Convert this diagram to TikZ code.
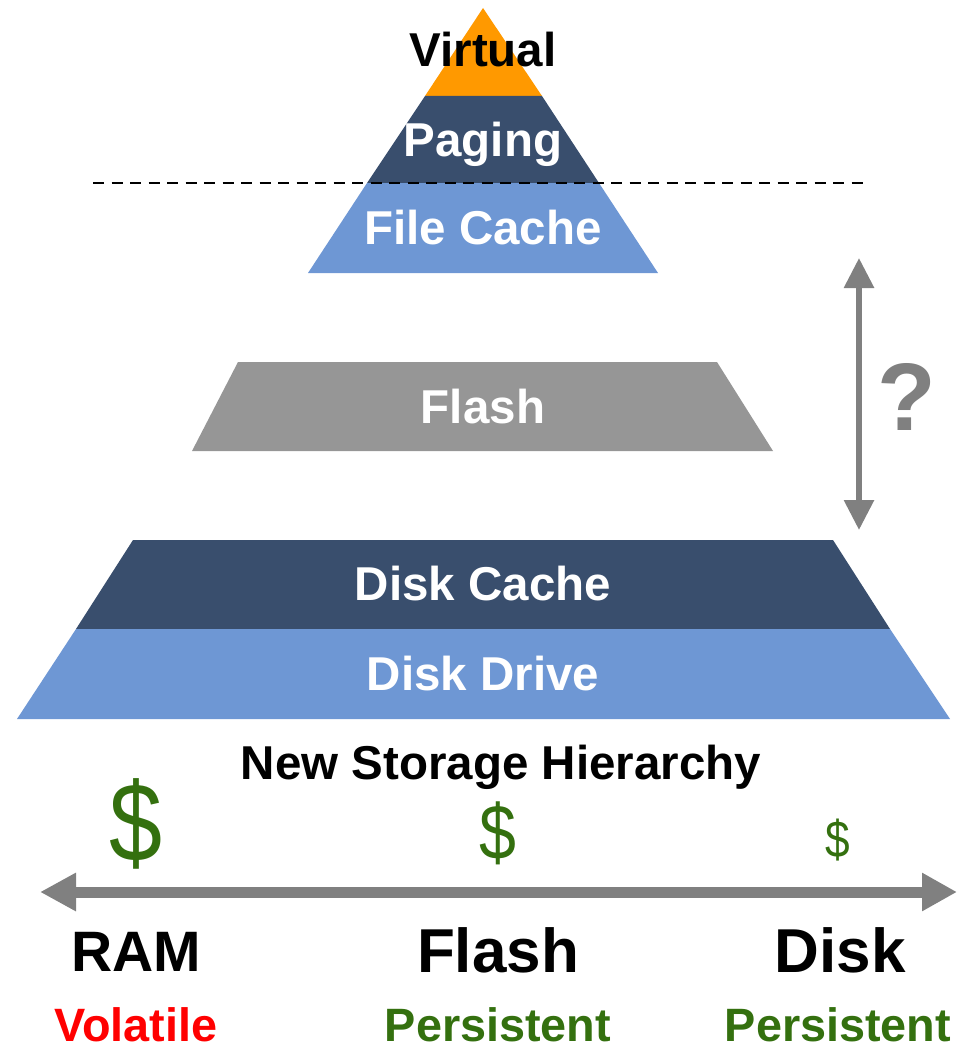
\documentclass[tikz,border=0pt]{standalone}
\usepackage{fontspec}
\setmainfont{Liberation Sans}
\usetikzlibrary{arrows.meta}
\definecolor{tierorange}{HTML}{FF9900}
\definecolor{tiernavy}{HTML}{394E6D}
\definecolor{tierblue}{HTML}{6E97D4}
\definecolor{tiergray}{HTML}{969696}
\definecolor{arrowgray}{HTML}{808080}
\definecolor{costgreen}{HTML}{34700F}
\definecolor{volred}{HTML}{FF0000}
\tikzset{
  tierlabel/.style={anchor=base, inner sep=0pt, text=white, font=\bfseries\fontsize{47.5}{57}\selectfont},
  captionlabel/.style={anchor=base, inner sep=0pt, text=black, font=\bfseries\fontsize{47.5}{57}\selectfont},
  medium/.style={anchor=base, inner sep=0pt, text=black, font=\bfseries\fontsize{#1}{70}\selectfont},
  trait/.style={anchor=base, inner sep=0pt, font=\bfseries\fontsize{46.8}{56}\selectfont},
  cost/.style={anchor=base, inner sep=0pt, text=costgreen, font=\fontsize{#1}{120}\selectfont},
  sizearrow/.style={draw=arrowgray, line width=#1},
}
\newcommand{\costsign}{\scalebox{0.85}[1]{\$}}
\begin{document}
\begin{tikzpicture}[x=1pt,y=-1pt]
\useasboundingbox (0,0) rectangle (963,1046);
% upper pyramid: memory tiers
\fill[tierorange] (483,8) -- (542,96) -- (425,96) -- cycle;
\fill[tiernavy] (425,96) -- (542,96) -- (599,183) -- (367,183) -- cycle;
\fill[tierblue] (367,183) -- (599,183) -- (658,273) -- (308,273) -- cycle;
% memory / storage boundary
\coordinate (cutL) at (93,183);
\coordinate (cutR) at (870,183);
\draw[black, line width=2.4pt, dash pattern=on 11pt off 7.5pt] (cutL) -- (cutR);
% middle tier
\fill[tiergray] (238,362) -- (717,362) -- (773,451) -- (192,451) -- cycle;
% lower tiers: disk
\fill[tiernavy] (133,540) -- (833,540) -- (890,629) -- (76,629) -- cycle;
\fill[tierblue] (76,629) -- (890,629) -- (950,719) -- (17,719) -- cycle;
% tier labels
\node[captionlabel] (virtual) at (483,67) {Virtual};
\node[tierlabel] (paging) at (483,156) {Paging};
\node[tierlabel] (filecache) at (483,244) {File Cache};
\node[tierlabel] (flashtier) at (483,423) {Flash};
\node[tierlabel] (diskcache) at (483,600) {Disk Cache};
\node[tierlabel] (diskdrive) at (483,690) {Disk Drive};
\node[captionlabel] (title) at (501,779) {New Storage Hierarchy};
% gap arrow
\coordinate (gapTop) at (859,258);
\coordinate (gapBot) at (859,530);
\draw[sizearrow=6pt, {Triangle[length=30pt,width=29pt]}-{Triangle[length=30pt,width=29pt]}] (gapTop) -- (gapBot);
\node[anchor=base, inner sep=0pt, text=arrowgray, font=\bfseries\fontsize{96}{110}\selectfont] (gapq) at (907,430) {?};
% cost scale
\node[cost=112] (costram) at (136,861) {\costsign};
\node[cost=78] (costflash) at (498,859) {\costsign};
\node[cost=52] (costdisk) at (838,857) {\costsign};
\coordinate (scaleL) at (40,892);
\coordinate (scaleR) at (957,892);
\draw[sizearrow=11pt, {Triangle[length=36pt,width=36pt]}-{Triangle[length=35pt,width=36pt]}] (scaleL) -- (scaleR);
% media
\node[medium=57] (ram) at (136,971) {RAM};
\node[medium=62] (flash) at (498,972) {Flash};
\node[medium=62] (disk) at (840,972) {Disk};
\node[trait, text=volred] (volatile) at (136,1041) {Volatile};
\node[trait, text=costgreen] (persistflash) at (498,1041) {Persistent};
\node[trait, text=costgreen] (persistdisk) at (838,1041) {Persistent};
\end{tikzpicture}
\end{document}
